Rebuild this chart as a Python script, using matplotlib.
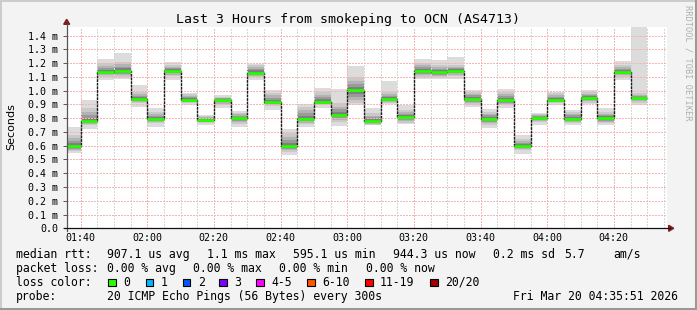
import matplotlib
matplotlib.use("Agg")
import matplotlib.pyplot as plt
from matplotlib.patches import Rectangle, Polygon
from matplotlib.lines import Line2D

W, H = 697, 310

# ---- data (values in ms) ----
block_start_min = 95          # 01:35, first 5-minute block
block_step_min = 5
view_start_min = 95.85        # 01:35:51
view_end_min = 275.85         # 04:35:51

median = [0.596, 0.776, 1.136, 1.143, 0.939, 0.793, 1.143, 0.932, 0.788, 0.932,
          0.800, 1.131, 0.915, 0.596, 0.793, 0.915, 0.822, 1.002, 0.779, 0.939,
          0.808, 1.143, 1.134, 1.143, 0.942, 0.796, 0.929, 0.601, 0.800, 0.932,
          0.796, 0.944, 0.800, 1.136, 0.946]
smoke_hi = [0.733, 0.929, 1.229, 1.275, 1.039, 0.873, 1.209, 0.983, 0.825, 0.968,
            0.849, 1.197, 1.002, 0.718, 0.905, 1.022, 1.015, 1.178, 0.873, 1.068,
            0.893, 1.229, 1.221, 1.246, 1.002, 0.869, 1.010, 0.679, 0.841, 0.990,
            0.859, 1.002, 0.873, 1.214, 1.470]
smoke_lo = [0.549, 0.720, 1.075, 1.083, 0.881, 0.735, 1.080, 0.893, 0.752, 0.876,
            0.735, 1.075, 0.856, 0.535, 0.735, 0.876, 0.740, 0.898, 0.747, 0.905,
            0.754, 1.088, 1.088, 1.088, 0.881, 0.730, 0.873, 0.540, 0.752, 0.893,
            0.747, 0.905, 0.747, 1.075, 0.893]
core_hi = [0.678, 0.871, 1.198, 1.210, 0.992, 0.847, 1.186, 0.976, 0.816, 0.956,
           0.840, 1.186, 0.985, 0.690, 0.883, 0.992, 0.908, 1.101, 0.835, 0.992,
           0.859, 1.198, 1.186, 1.186, 0.992, 0.847, 0.992, 0.646, 0.830, 0.980,
           0.847, 0.992, 0.847, 1.186, 0.980]
core_lo = [0.560, 0.750, 1.101, 1.101, 0.908, 0.763, 1.106, 0.908, 0.763, 0.896,
           0.758, 1.096, 0.887, 0.557, 0.758, 0.896, 0.775, 0.908, 0.750, 0.908,
           0.767, 1.101, 1.096, 1.106, 0.896, 0.750, 0.896, 0.569, 0.775, 0.908,
           0.763, 0.913, 0.763, 1.101, 0.913]

y_ticks = [0.0, 0.1, 0.2, 0.3, 0.4, 0.5, 0.6, 0.7, 0.8, 0.9, 1.0, 1.1, 1.2, 1.3, 1.4]
y_tick_labels = ["0.0", "0.1 m", "0.2 m", "0.3 m", "0.4 m", "0.5 m", "0.6 m", "0.7 m",
                 "0.8 m", "0.9 m", "1.0 m", "1.1 m", "1.2 m", "1.3 m", "1.4 m"]
x_major_min = [100, 120, 140, 160, 180, 200, 220, 240, 260]
x_major_labels = ["01:40", "02:00", "02:20", "02:40", "03:00", "03:20", "03:40", "04:00", "04:20"]

title = "Last 3 Hours from smokeping to OCN (AS4713)"
loss_names = ["0", "1", "2", "3", "4-5", "6-10", "11-19", "20/20"]
loss_colors = ["#26ff00", "#00b8ff", "#0059ff", "#7e00ff", "#ff00ff", "#ff5500", "#ff0000", "#a10000"]

# ---- figure ----
fig = plt.figure(figsize=(W / 100, H / 100), dpi=100, facecolor="#f3f3f3")

def fx(x):
    return x / W

def fy(y):
    return 1 - y / H

# 3D frame
fig.add_artist(Line2D([0, 1], [fy(0.5), fy(0.5)], color="#cbcbcb", lw=1.4, transform=fig.transFigure))
fig.add_artist(Line2D([fx(0.5), fx(0.5)], [0, 1], color="#cbcbcb", lw=1.4, transform=fig.transFigure))
fig.add_artist(Line2D([0, 1], [fy(308.8), fy(308.8)], color="#999999", lw=2.2, transform=fig.transFigure))
fig.add_artist(Line2D([fx(695.8), fx(695.8)], [0, 1], color="#999999", lw=2.2, transform=fig.transFigure))

ax_l, ax_r, ax_t, ax_b = 66.7, 666.7, 27.3, 228.3
ax = fig.add_axes([fx(ax_l), fy(ax_b), (ax_r - ax_l) / W, (ax_b - ax_t) / H])
ax.set_facecolor("white")
ax.set_xlim(view_start_min, view_end_min)
ax.set_ylim(0, 1.46)
for s in ax.spines.values():
    s.set_visible(False)

# smoke
n = len(median)
starts = [block_start_min + i * block_step_min for i in range(n)]
ax.bar(starts, [h - l for h, l in zip(smoke_hi, smoke_lo)], bottom=smoke_lo, width=block_step_min,
       align="edge", color="#dcdcdc", lw=0, zorder=2)
band_fracs = [1.0, 0.72, 0.48, 0.28, 0.12]
band_cols = ["#c9c9c9", "#b3b3b3", "#9a9a9a", "#808080", "#626262"]
for f, c in zip(band_fracs, band_cols):
    tops = [md + f * (ch - md) for md, ch in zip(median, core_hi)]
    bots = [md - f * (md - cl) for md, cl in zip(median, core_lo)]
    ax.bar(starts, [t - b for t, b in zip(tops, bots)], bottom=bots, width=block_step_min,
           align="edge", color=c, lw=0, zorder=3)

# grid (dotted, drawn over the smoke as rrdtool does)
dot = (0, (1, 1.6))
for m in range(100, 276, 5):
    major = (m % 20 == 0)
    ax.axvline(m, color="#f7b4b4" if major else "#d6d6d6", lw=0.75, ls=dot, zorder=3.5,
               antialiased=False)
for v in y_ticks[1:]:
    ax.axhline(v, color="#f7b4b4", lw=0.75, ls=dot, zorder=3.5, antialiased=False)

# median step line + loss colour
xs, ys = [], []
for s, md in zip(starts, median):
    xs += [s, s + block_step_min]
    ys += [md, md]
ax.plot(xs, ys, color="#1a1a1a", lw=1.0, zorder=4, ls=(0, (2, 0.6)))
for s, md in zip(starts, median):
    ax.plot([s, s + block_step_min], [md, md], color=loss_colors[0], lw=2.0,
            solid_capstyle="butt", zorder=5)

# ticks
ax.set_yticks(y_ticks)
ax.set_yticklabels(y_tick_labels, family="DejaVu Sans Mono", fontsize=7.2)
ax.set_xticks(x_major_min)
ax.set_xticklabels(x_major_labels, family="DejaVu Sans Mono", fontsize=7.2)
ax.tick_params(axis="y", length=3, width=0.7, color="#555555", pad=3.2)
ax.tick_params(axis="x", length=0, pad=3.2)

# axes lines and arrows
fig.add_artist(Line2D([fx(ax_l), fx(ax_l)], [fy(ax_b + 3), fy(ax_t - 3)], color="#555555", lw=0.9,
                      transform=fig.transFigure))
fig.add_artist(Line2D([fx(ax_l - 3), fx(ax_r + 3)], [fy(ax_b), fy(ax_b)], color="#111111", lw=0.9,
                      transform=fig.transFigure))
fig.add_artist(Polygon([[fx(ax_l - 3), fy(ax_t - 3)], [fx(ax_l + 3), fy(ax_t - 3)], [fx(ax_l), fy(ax_t - 8)]],
                       closed=True, color="#7f1f1f", transform=fig.transFigure))
fig.add_artist(Polygon([[fx(ax_r + 2), fy(ax_b - 3)], [fx(ax_r + 2), fy(ax_b + 3)], [fx(ax_r + 7), fy(ax_b)]],
                       closed=True, color="#7f1f1f", transform=fig.transFigure))

# title, labels
mono = "DejaVu Sans Mono"
fig.text(fx(348.5), fy(19), title, ha="center", va="center", family=mono, fontsize=9.5)
fig.text(fx(11), fy(127), "Seconds", rotation=90, ha="center", va="center", family="DejaVu Sans", fontsize=8)
fig.text(fx(688), fy(5), "RRDTOOL / TOBI OETIKER", rotation=270, ha="center", va="top",
         family=mono, fontsize=6.2, color="#b0b0b0")

# legend
lf = 8.3
def t(x, y, s):
    fig.text(fx(x), fy(y), s, ha="left", va="center", family=mono, fontsize=lf)

r1, r2, r3, r4 = 254.3, 268.3, 282.3, 296.3
t(16, r1, "median rtt:")
t(107.3, r1, "907.1 us avg")
t(207.3, r1, "1.1 ms max")
t(293.3, r1, "595.1 us min")
t(393.3, r1, "944.3 us now")
t(493.3, r1, "0.2 ms sd")
t(564.3, r1, "5.7")
t(613.3, r1, "am/s")

t(16, r2, "packet loss:")
t(107.3, r2, "0.00 % avg")
t(193.3, r2, "0.00 % max")
t(279.3, r2, "0.00 % min")
t(365.7, r2, "0.00 % now")

t(16, r3, "loss color:")
box_x = [108.3, 145.7, 182.7, 219.3, 256.0, 307.3, 365.0, 430.0]
for bx, name, col in zip(box_x, loss_names, loss_colors):
    fig.add_artist(Rectangle((fx(bx), fy(286.3)), 7.7 / W, 7.7 / H, facecolor=col, edgecolor="black",
                             lw=0.8, transform=fig.transFigure))
    t(bx + 15, r3, name)

t(16, r4, "probe:")
t(107.3, r4, "20 ICMP Echo Pings (56 Bytes) every 300s")
t(513.3, r4, "Fri Mar 20 04:35:51 2026")

fig.savefig("out.png", dpi=100, facecolor=fig.get_facecolor())
